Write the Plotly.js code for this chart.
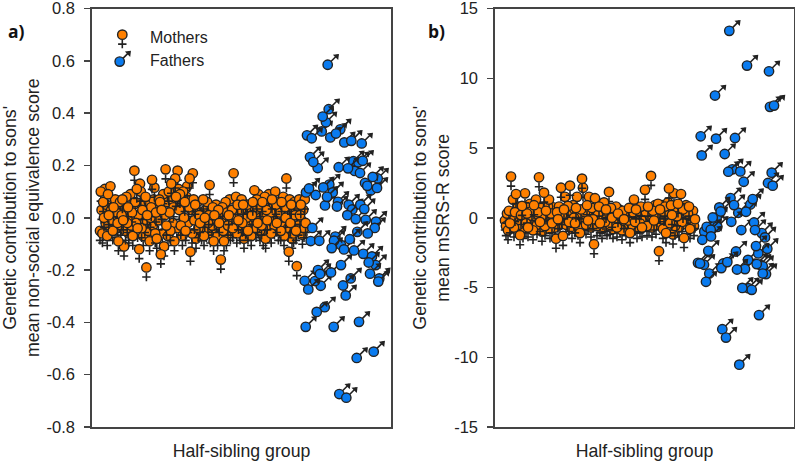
<!DOCTYPE html>
<html><head><meta charset="utf-8">
<script src="https://cdn.plot.ly/plotly-3.0.1.min.js"></script>
<style>html,body{margin:0;padding:0;background:#fff}</style></head>
<body><div id="chart" style="width:795px;height:462px"></div>
<script>
const mothersA = [
-.05,.10,.03,-.06,.06,0,.11,-.02,.05,-.07,.09,.01,-.03,.12,.03,-.01,-.05,.04,-.02,.07,-.04,.02,-.02,-.09,.05,
.06,-.03,.01,.07,-.01,-.11,.03,-.05,.08,-.02,.04,-.06,0,.09,-.03,.02,-.07,.05,.18,.06,-.02,.11,-.04,.01,-.12,
.13,.1,-.04,.03,-.07,.05,-.02,.08,-.19,.01,-.05,.06,-.09,0,.04,.145,-.03,.07,.115,-.06,.02,-.08,.05,-.01,.07,
.06,-.14,.03,-.06,.09,-.11,.01,.185,-.03,.06,-.07,.1,.02,-.05,.13,.07,-.02,.04,-.09,.15,.08,-.04,.18,.11,.03,
.09,-.03,.05,-.07,.1,0,.06,-.05,.08,.12,-.02,.04,.15,-.13,.03,-.06,.17,.07,-.01,.05,-.08,.02,.06,-.04,.01,
-.02,.02,-.05,.01,.07,-.07,0,.03,-.04,.06,-.02,.01,.125,-.06,.02,-.03,.04,-.09,.01,-.04,.05,-.01,-.07,.03,-.02,
.03,-.16,-.02,.04,-.05,-.09,.01,.06,-.07,.02,-.03,.01,.07,-.05,0,.03,-.04,.17,.02,-.02,.08,-.06,.05,-.01,.06,
-.05,.03,.07,-.02,.05,-.08,.04,-.03,0,.05,-.05,.02,-.03,.04,-.07,.01,.06,-.01,.105,.03,-.04,.07,-.02,.09,0,
-.05,.04,-.03,.06,-.07,.01,.08,-.08,.03,-.01,.05,.09,-.04,.02,-.06,.07,0,.04,-.03,.1,.05,-.02,.03,-.05,.06,
.02,-.05,.06,-.03,.08,-.07,.04,0,.15,.05,-.04,-.13,.07,-.02,.05,-.08,.03,-.06,.06,.01,-.05,-.185,.04,-.03,.07,
.01,.05,-.01,-.065,.03,-.04,.07,-.02];
const fathersAx = [235.7,236.7,230.7,234,215,219.7,229.7,238.3,244,248.3,252.3,259.3,269.7,218,221.3,225.7,246.7,256,261.3,266.3,270.7,262.7,268,280.7,285.7,273,275.3,278.7,285,217,214,223.7,231.3,237.3,240.7,235,233,246,245,256.7,268.3,272.3,260.3,255.3,263.7,273.7,284,282.7,220.3,265.3,275.7,243.3,242,257.7,218.7,227.3,239.7,249,252,262,271.3,280,276.7,283.7,249,278,239,226,228,212.7,223,216.3,228.7,258.7,251,253.7,287.3,286.3,232.7,224.7,213.7,241.7,267,281.7,264.7,247.3,254.3];
const fathersAy = [.585,.415,.387,.365,.315,.304,.33,.307,.322,.338,.288,.294,.284,.232,.213,.19,.193,.189,.216,.212,.218,.179,.171,.156,.15,.133,.122,.104,.114,.112,.097,.087,.116,.127,.097,.08,.047,.061,.043,.05,.05,.033,.032,.01,-.005,-.008,-.015,-.039,-.039,-.054,-.06,-.072,-.088,-.082,-.089,-.088,-.116,-.104,-.121,-.125,-.138,-.148,-.171,-.181,-.181,-.214,-.209,-.2,-.215,-.241,-.242,-.274,-.26,-.232,-.259,-.297,-.232,-.244,-.342,-.36,-.417,-.417,-.398,-.512,-.536,-.674,-.688];
const mothersB = [
-.2,-.6,.3,-.9,.5,-.4,2.95,.1,1.3,-.7,.4,1.7,-.3,.8,-.5,-1.25,.2,.85,-.8,.4,
1.75,-.4,.3,-.7,.6,1,-.2,.5,-.9,.9,.1,1.3,-.5,.4,2.9,-.3,.7,-1,.2,1.8,
-.6,.5,-.2,.8,1.3,-.8,.3,-.4,.75,.1,-.7,-1.5,.4,-.1,.8,-.5,2.15,.2,-1.3,.6,
1.5,-.5,.2,.85,-.3,2.3,.5,-.8,.9,0,-.4,.7,1.5,-.6,.3,-1.1,.6,2.8,2.15,-.2,
.4,-.5,.9,-.2,1.5,.3,-.7,.7,-.1,-1.9,1.4,.5,-.6,.2,.8,-.4,.5,-.8,.1,1.1,
-.3,.6,-.6,.2,1.85,-.5,.7,0,-.8,.4,-.2,.8,-.7,.3,.6,-.4,.1,-.9,.5,-.1,
.3,-.6,.5,-.2,.7,-1.1,.2,-.5,.4,1.3,-.3,.6,-.8,.1,.5,-.4,.8,-.7,.2,-.1,
2,.4,-.6,.8,-.3,.1,3,-.7,.5,-.2,.9,-.5,.3,1,-2.4,.6,-.1,.9,-.8,.4,
.8,-1.1,.3,1.1,2.1,-.4,.9,.2,-1.2,1.75,-.6,.7,.1,1,-.7,.5,1.7,-.3,.6,-1.45,
.6,.9,-.5,.3,.8,-.8,.4,.1,.5,-.6,-.1];
const fathersBx = [238.3,256,278,224,279,283,209.7,225,244,210.7,233.7,237.3,241.3,249.3,252.7,280.7,277,281.7,239.5,261.7,243,259.3,228.3,229.7,247.3,255,221.7,225.7,240.3,215.7,222.3,226.3,219.7,213.3,211.3,220,250.3,263,264,270.7,274,265,276.3,267.3,217.3,245,207,209,213,257,265.7,269,271.7,236.3,232.3,230.3,246,254,275,271.7,218.3,215,251.3,257.3,260.7,268,231.3,235,248.3];
const fathersBy = [13.4,10.91,10.5,8.76,7.95,8.04,5.84,5.67,5.72,4.47,4.57,3.3,3.47,3.32,2.58,3.23,2.49,2.3,1.41,1.34,.91,.95,.74,.45,.36,.43,.02,.02,-.29,-.65,-.45,-.65,-.86,-.98,-1.58,-1.34,-.88,-.34,-.88,-1.1,-1.41,-2.03,-2.23,-2.56,-2.37,-2.42,-3.23,-3.28,-3.37,-3.02,-3.32,-3.37,-3.47,-3.18,-3.28,-3.61,-3.71,-3.68,-4.04,-4,-4,-4.59,-5.03,-5.05,-5.17,-6.98,-7.99,-8.59,-10.53];
const ticksAv = [-.8,-.6,-.4,-.2,0,.2,.4,.6,.8];
const ticksAt = ['-0.8','-0.6','-0.4','-0.2','0.0','0.2','0.4','0.6','0.8'];
const ticksBv = [-15,-10,-5,0,5,10,15];
const ticksBt = ['-15','-10','-5','0','5','10','15'];
const seriesNames = ['Mothers','Fathers'];

const ORANGE='#ff8000', BLUE='#0a7bef', INK='#222222', FONT='"Liberation Sans", Arial, sans-serif';
const motherXA = mothersA.map((_,i)=>8+i*0.8);
const motherXB = mothersB.map((_,i)=>14+i*1);
const PXA = 418/1.6, PXB = 418/30;

function glyph(kind, xs, ys, xa, ya, pxv){
  const t=[];
  const base={type:'scatter',mode:'markers',xaxis:xa,yaxis:ya,hoverinfo:'skip',showlegend:false,cliponaxis:false};
  if(kind==='f'){
    t.push({...base,x:xs,y:ys.map(v=>v-9.5/pxv),marker:{symbol:'cross-thin',size:6,line:{color:INK,width:1.6}}});
    t.push({...base,x:xs,y:ys,marker:{symbol:'circle',size:9.4,color:ORANGE,line:{color:INK,width:1.4}}});
  }else{
    t.push({...base,x:xs.map(v=>v+5),y:ys.map(v=>v+5/pxv),marker:{symbol:'line-ne',size:10,line:{color:INK,width:1.6}}});
    t.push({...base,x:xs.map(v=>v+9),y:ys.map(v=>v+8.5/pxv),marker:{symbol:'triangle-up',size:6.5,angle:45,color:INK,line:{width:0}}});
    t.push({...base,x:xs,y:ys,marker:{symbol:'circle',size:9.4,color:BLUE,line:{color:INK,width:1.4}}});
  }
  return t;
}
function batches(kind,xs,ys,n,xa,ya,pxv){
  let out=[];
  for(let b=0;b<n;b++){
    const ix=xs.map((_,i)=>i).filter(i=>i%n===b);
    out=out.concat(glyph(kind,ix.map(i=>xs[i]),ix.map(i=>ys[i]),xa,ya,pxv));
  }
  return out;
}
const data=[
 ...batches('f',motherXA,mothersA,6,'x','y',PXA),
 ...batches('m',fathersAx,fathersAy,3,'x','y',PXA),
 ...batches('f',motherXB,mothersB,6,'x2','y2',PXB),
 ...batches('m',fathersBx,fathersBy,3,'x2','y2',PXB),
 ...glyph('f',[30.3],[.70],'x','y',PXA),
 ...glyph('m',[27.7],[.597],'x','y',PXA),
];
const tf={family:FONT,size:16.5,color:'#222'};
const W=795,H=462;
const yax=(v,t,title,rng,so)=>({domain:[1-427/H,1-8.5/H],range:rng,tickvals:v,ticktext:t,ticks:'outside',ticklen:6,tickwidth:1.5,tickcolor:'#444',ticklabelstandoff:6,ticklabeloverflow:'allow',
  showline:true,mirror:true,linecolor:'#444',linewidth:1.7,showgrid:false,zeroline:false,tickfont:tf,
  title:{text:title,font:{family:FONT,size:17.8,color:'#222'},standoff:so}});
const xax=(dom,rng,an)=>({domain:dom,range:rng,showticklabels:false,ticks:'',showline:true,mirror:true,linecolor:'#444',linewidth:1.7,showgrid:false,zeroline:false,
  anchor:an,title:{text:'Half-sibling group',font:{family:FONT,size:17.7,color:'#222'},standoff:17}});
const layout={width:W,height:H,margin:{l:0,r:0,t:0,b:0,pad:0},paper_bgcolor:'#fff',plot_bgcolor:'#fff',showlegend:false,
 xaxis:xax([92/W,391/W],[0,299],'y'),
 yaxis:yax(ticksAv,ticksAt,"Genetic contribution to sons'<br>mean non-social equivalence score",[-.8,.8],10),
 xaxis2:xax([495/W,794/W],[4,303],'y2'),
 yaxis2:{...yax(ticksBv,ticksBt,"Genetic contribution to sons'<br>mean mSRS-R score",[-15,15],0),anchor:'x2'},
 annotations:[
  {xref:'x',yref:'y',x:56,y:.69,text:seriesNames[0],showarrow:false,xanchor:'left',font:{family:FONT,size:16,color:'#222'}},
  {xref:'x',yref:'y',x:56,y:.60,text:seriesNames[1],showarrow:false,xanchor:'left',font:{family:FONT,size:16,color:'#222'}},
  {xref:'paper',yref:'paper',x:16/W,y:1-17/H,text:'<b>a)</b>',showarrow:false,xanchor:'center',font:{family:'"Open Sans",sans-serif',size:17.5,color:'#111'}},
  {xref:'paper',yref:'paper',x:436/W,y:1-17/H,text:'<b>b)</b>',showarrow:false,xanchor:'center',font:{family:'"Open Sans",sans-serif',size:17.5,color:'#111'}}
 ]};
Plotly.newPlot('chart',data,layout,{displayModeBar:false,staticPlot:true});
</script></body></html>
